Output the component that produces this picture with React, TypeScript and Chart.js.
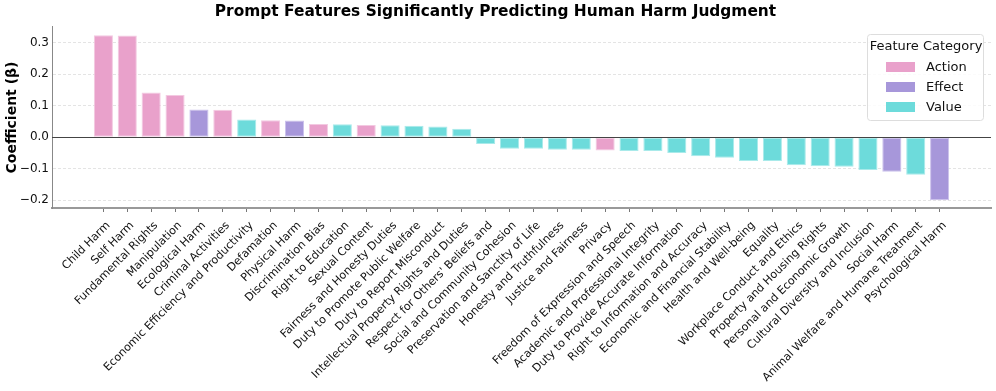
import React, { useEffect, useRef } from "react";
import { Chart, registerables } from "chart.js";

Chart.register(...registerables);

const chartTitle = "Prompt Features Significantly Predicting Human Harm Judgment";
const yAxisTitle = "Coefficient (β)";
const legendTitle = "Feature Category";

const categories = [
  "Child Harm",
  "Self Harm",
  "Fundamental Rights",
  "Manipulation",
  "Ecological Harm",
  "Criminal Activities",
  "Economic Efficiency and Productivity",
  "Defamation",
  "Physical Harm",
  "Discrimination Bias",
  "Right to Education",
  "Sexual Content",
  "Fairness and Honesty Duties",
  "Duty to Promote Public Welfare",
  "Duty to Report Misconduct",
  "Intellectual Property Rights and Duties",
  "Respect for Others' Beliefs and",
  "Social and Community Cohesion",
  "Preservation and Sanctity of Life",
  "Honesty and Truthfulness",
  "Justice and Fairness",
  "Privacy",
  "Freedom of Expression and Speech",
  "Academic and Professional Integrity",
  "Duty to Provide Accurate Information",
  "Right to Information and Accuracy",
  "Economic and Financial Stability",
  "Health and Well-being",
  "Equality",
  "Workplace Conduct and Ethics",
  "Property and Housing Rights",
  "Personal and Economic Growth",
  "Cultural Diversity and Inclusion",
  "Social Harm",
  "Animal Welfare and Humane Treatment",
  "Psychological Harm",
];

const coefficients = [
  0.324, 0.323, 0.142, 0.134, 0.088, 0.087, 0.056, 0.054, 0.053, 0.042, 0.041,
  0.039, 0.038, 0.036, 0.034, 0.027, -0.022, -0.037, -0.037, -0.04, -0.04,
  -0.042, -0.044, -0.044, -0.05, -0.061, -0.065, -0.076, -0.076, -0.089,
  -0.092, -0.094, -0.104, -0.11, -0.119, -0.2,
];

const featureTypes = [
  "Action", "Action", "Action", "Action", "Effect", "Action", "Value", "Action",
  "Effect", "Action", "Value", "Action", "Value", "Value", "Value", "Value",
  "Value", "Value", "Value", "Value", "Value", "Action", "Value", "Value",
  "Value", "Value", "Value", "Value", "Value", "Value", "Value", "Value",
  "Value", "Effect", "Value", "Effect",
];

const legendLabels = ["Action", "Effect", "Value"];
const typeColors: Record<string, string> = {
  Action: "#e9a1cb",
  Effect: "#a797da",
  Value: "#6ddbdb",
};
const typeEdges: Record<string, string> = {
  Action: "#f3c9e1",
  Effect: "#cbc1ec",
  Value: "#a9eaea",
};

const yTickValues = [-0.2, -0.1, 0, 0.1, 0.2, 0.3];

const FONT = "'DejaVu Sans', sans-serif";

const zeroLinePlugin = {
  id: "zeroLine",
  afterDatasetsDraw(chart: any) {
    const { ctx, chartArea, scales } = chart;
    const y = scales.y.getPixelForValue(0);
    ctx.save();
    ctx.strokeStyle = "#444444";
    ctx.lineWidth = 1;
    ctx.beginPath();
    ctx.moveTo(chartArea.left, Math.round(y) + 0.5);
    ctx.lineTo(chartArea.right, Math.round(y) + 0.5);
    ctx.stroke();
    ctx.restore();
  },
};

const boxLegendPlugin = {
  id: "boxLegend",
  afterDraw(chart: any) {
    const { ctx } = chart;
    const x0 = 867;
    const y0 = 34;
    const w = 116;
    const h = 86;
    ctx.save();
    ctx.fillStyle = "rgba(255,255,255,0.85)";
    ctx.strokeStyle = "#dddddd";
    ctx.lineWidth = 1;
    ctx.beginPath();
    if (ctx.roundRect) ctx.roundRect(x0 + 0.5, y0 + 0.5, w, h, 3);
    else ctx.rect(x0 + 0.5, y0 + 0.5, w, h);
    ctx.fill();
    ctx.stroke();
    ctx.fillStyle = "#111111";
    ctx.font = `13px ${FONT}`;
    ctx.textAlign = "center";
    ctx.textBaseline = "middle";
    ctx.fillText(legendTitle, x0 + w / 2 + 1, y0 + 13);
    ctx.textAlign = "left";
    legendLabels.forEach((lab, i) => {
      const cy = y0 + 33 + i * 20;
      ctx.fillStyle = typeColors[lab];
      ctx.fillRect(886, cy - 5, 29, 10);
      ctx.fillStyle = "#111111";
      ctx.fillText(lab, 926, cy + 1);
    });
    ctx.restore();
  },
};

export default function App() {
  const canvasRef = useRef<HTMLCanvasElement | null>(null);

  useEffect(() => {
    const canvas = canvasRef.current;
    if (!canvas) return;
    const chart = new Chart(canvas, {
      type: "bar",
      data: {
        datasets: [
          {
            data: coefficients.map((v, i) => ({ x: i, y: v })),
            backgroundColor: featureTypes.map((t) => typeColors[t]),
            borderColor: featureTypes.map((t) => typeEdges[t]),
            borderWidth: 1,
            borderSkipped: false,
            barPercentage: 0.8,
            categoryPercentage: 1.0,
          },
        ],
      },
      options: {
        animation: false,
        responsive: false,
        maintainAspectRatio: false,
        layout: { padding: { left: 0, right: 5, top: 0, bottom: 0 } },
        plugins: {
          legend: { display: false },
          tooltip: { enabled: false },
          title: {
            display: true,
            text: chartTitle,
            color: "#000000",
            font: { family: FONT, size: 15.4, weight: "bold" },
            padding: { top: 2.5, bottom: 6 },
          },
        },
        scales: {
          x: {
            type: "linear",
            min: -2.15,
            max: 37.15,
            offset: false,
            afterBuildTicks: (s: any) => {
              s.ticks = categories.map((_, i) => ({ value: i }));
            },
            afterFit: (s: any) => {
              s.height = 183;
            },
            ticks: {
              autoSkip: false,
              minRotation: 45,
              maxRotation: 45,
              padding: 7,
              labelOffset: 5,
              color: "#111111",
              font: { family: FONT, size: 11.2 },
              callback: (v: any) => categories[Math.round(Number(v))] ?? "",
            },
            grid: {
              display: true,
              offset: false,
              drawOnChartArea: false,
              drawTicks: true,
              tickLength: 4,
              tickColor: "#777777",
              color: "#777777",
            },
            border: { display: true, color: "#999999", width: 2 },
          },
          y: {
            min: -0.225,
            max: 0.35,
            afterBuildTicks: (s: any) => {
              s.ticks = yTickValues.map((v) => ({ value: v }));
            },
            afterFit: (s: any) => {
              s.width = 52;
            },
            ticks: {
              padding: 3,
              color: "#111111",
              font: { family: FONT, size: 12 },
              callback: (v: any) => {
                const n = Number(v);
                const s = Math.abs(n).toFixed(1);
                return n < -1e-9 ? "\u2212" + s : s;
              },
            },
            grid: {
              color: "#e4e4e4",
              lineWidth: 1,
              drawTicks: false,
            },
            border: { display: true, color: "#888888", width: 1, dash: [3, 2] },
            title: {
              display: true,
              text: yAxisTitle,
              color: "#000000",
              font: { family: FONT, size: 14, weight: "bold" },
              padding: { top: 4, bottom: 2 },
            },
          },
        },
      },
      plugins: [zeroLinePlugin, boxLegendPlugin],
    } as any);
    return () => chart.destroy();
  }, []);

  return (
    <div style={{ position: "fixed", left: 0, top: 0, width: 996, height: 391, background: "#ffffff" }}>
      <canvas ref={canvasRef} width={996} height={391} style={{ display: "block", width: 996, height: 391 }} />
    </div>
  );
}
